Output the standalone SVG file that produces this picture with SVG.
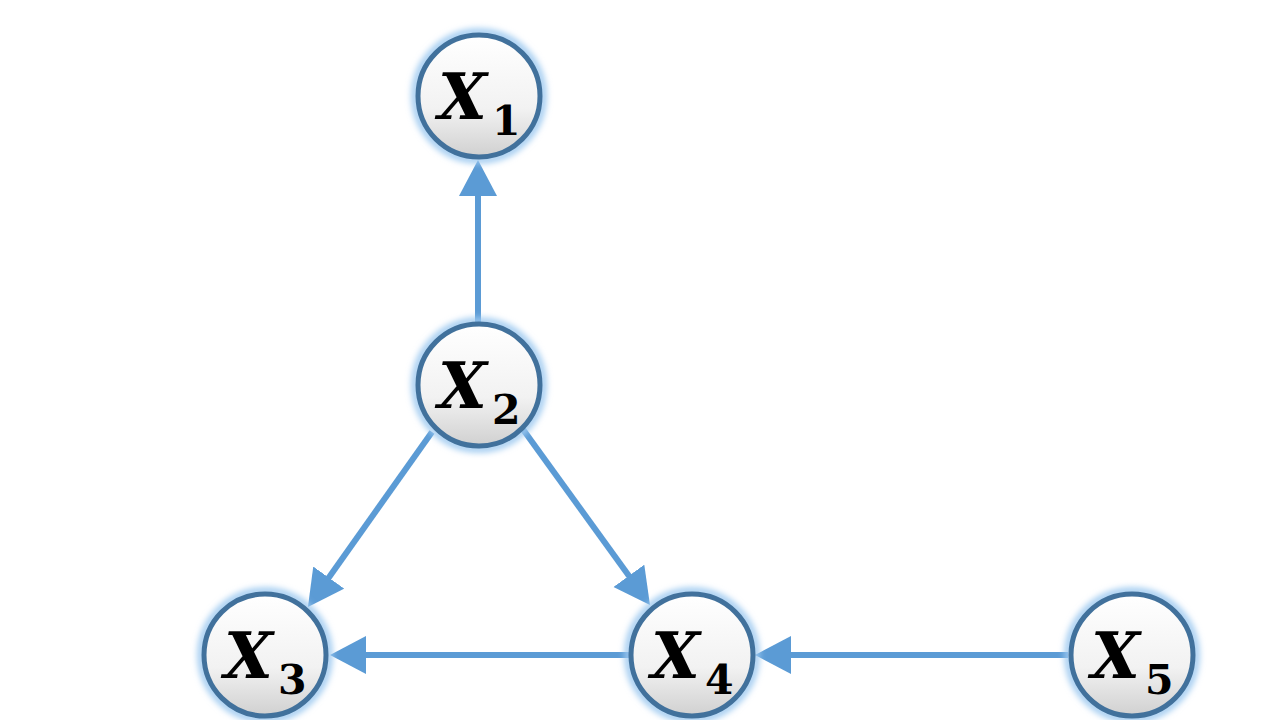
<svg xmlns="http://www.w3.org/2000/svg" width="1280" height="720" viewBox="0 0 1280 720">
<defs>
<linearGradient id="g" x1="0" y1="0" x2="0" y2="1">
<stop offset="0" stop-color="#ffffff"/>
<stop offset="0.6" stop-color="#f2f2f2"/>
<stop offset="1" stop-color="#d0d0d0"/>
</linearGradient>
<filter id="glow" x="-30%" y="-30%" width="160%" height="160%">
<feGaussianBlur stdDeviation="3"/>
</filter>
<marker id="ah" markerUnits="userSpaceOnUse" markerWidth="40" markerHeight="40" refX="20" refY="19" orient="auto">
<path d="M0,0 L36,19 L0,38 z" fill="#5B9BD5"/>
</marker>
<style>
.edge{stroke:#5B9BD5;stroke-width:6;fill:none;marker-end:url(#ah)}
.halo{fill:none;stroke:#9DC9F0;stroke-width:7;filter:url(#glow)}
.body{fill:url(#g);stroke:#41719C;stroke-width:5}
.x{font-family:"DejaVu Serif",serif;font-weight:bold;font-style:italic;font-size:63px;fill:#000}
.s{font-family:"DejaVu Serif",serif;font-weight:bold;font-size:41px;fill:#000}
</style>
</defs>
<g id="connectors">
<line class="edge" x1="478" y1="322" x2="478" y2="176"/>
<line class="edge" x1="432" y1="432" x2="317.2" y2="593.9"/>
<line class="edge" x1="522" y1="428" x2="640.6" y2="592"/>
<line class="edge" x1="630" y1="655" x2="346" y2="655"/>
<line class="edge" x1="1068" y1="655" x2="771" y2="655"/>
</g>
<g id="X1">
<circle class="halo" cx="479" cy="96" r="64"/>
<circle class="body" cx="479" cy="96" r="61"/>
<text class="x" x="438" y="119">X</text><text class="s" x="492" y="135">1</text>
</g>
<g id="X2">
<circle class="halo" cx="479" cy="385" r="64"/>
<circle class="body" cx="479" cy="385" r="61"/>
<text class="x" x="438" y="408">X</text><text class="s" x="492" y="424">2</text>
</g>
<g id="X3">
<circle class="halo" cx="265" cy="655" r="64"/>
<circle class="body" cx="265" cy="655" r="61"/>
<text class="x" x="224" y="678">X</text><text class="s" x="278" y="694">3</text>
</g>
<g id="X4">
<circle class="halo" cx="692" cy="655" r="64"/>
<circle class="body" cx="692" cy="655" r="61"/>
<text class="x" x="651" y="678">X</text><text class="s" x="705" y="694">4</text>
</g>
<g id="X5">
<circle class="halo" cx="1132" cy="655" r="64"/>
<circle class="body" cx="1132" cy="655" r="61"/>
<text class="x" x="1091" y="678">X</text><text class="s" x="1145" y="694">5</text>
</g>
</svg>
